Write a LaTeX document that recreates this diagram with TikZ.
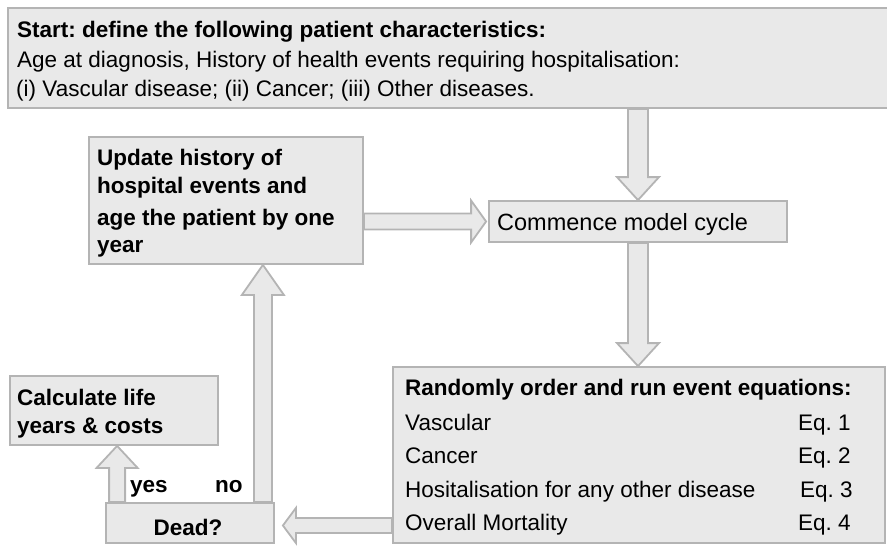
\documentclass[tikz,border=0pt]{standalone}
\usepackage{fontspec}
\setmainfont{Liberation Sans}
\usetikzlibrary{calc,backgrounds}
\definecolor{linegray}{RGB}{180,180,180}
\definecolor{boxfill}{RGB}{233,233,233}
\frenchspacing
\tikzset{
  box/.style={draw=linegray, fill=boxfill, line width=1.8pt, rectangle, inner sep=0pt},
  txt/.style={anchor=base west, inner sep=0pt, font=\fontsize{22.5}{27}\selectfont},
  btxt/.style={anchor=base west, inner sep=0pt, font=\fontsize{22.5}{27}\selectfont\bfseries},
  ar/.style={draw=linegray, fill=boxfill, line width=1.8pt, line join=miter},
  barrow/.style n args={3}{
    to path={
      ($(\tikztostart)!#1!90:(\tikztotarget)$) --
      ($($(\tikztotarget)!#3!(\tikztostart)$)!#1!90:(\tikztotarget)$) --
      ($($(\tikztotarget)!#3!(\tikztostart)$)!#2!90:(\tikztotarget)$) --
      (\tikztotarget) --
      ($($(\tikztotarget)!#3!(\tikztostart)$)!#2!-90:(\tikztotarget)$) --
      ($($(\tikztotarget)!#3!(\tikztostart)$)!#1!-90:(\tikztotarget)$) --
      ($(\tikztostart)!#1!-90:(\tikztotarget)$) -- cycle
    }}
}
\begin{document}
\begin{tikzpicture}[x=1pt,y=-1pt]
\useasboundingbox (0,0) rectangle (887,546);

% boxes
\node[box, minimum width=880pt, minimum height=100pt] (top) at (448,58) {};
\node[box, minimum width=274pt, minimum height=127pt] (update) at (226,200.5) {};
\node[box, minimum width=298pt, minimum height=41pt] (commence) at (638,221.5) {};
\node[box, minimum width=492pt, minimum height=176pt] (rand) at (639,455) {};
\node[box, minimum width=208pt, minimum height=69pt] (calc) at (114,410.5) {};
\node[box, minimum width=168pt, minimum height=40pt] (dead) at (190,523) {};

% texts
\node[btxt] (t1) at (17,37) {Start: define the following patient characteristics:};
\node[txt] (t2) at (17,67) {Age at diagnosis, History of health events requiring hospitalisation:};
\node[txt] (t3) at (16,96) {(i) Vascular disease; (ii) Cancer; (iii) Other diseases.};

\node[btxt] (u1) at (97,165) {Update history of};
\node[btxt] (u2) at (97,193) {hospital events and};
\node[btxt] (u3) at (97,225) {age the patient by one};
\node[btxt] (u4) at (97,252) {year};

\node[txt, font=\fontsize{23.5}{28}\selectfont] (c1) at (497,230) {Commence model cycle};

\node[btxt] (r0) at (405,395) {Randomly order and run event equations:};
\node[txt] (r1) at (405,430) {Vascular};
\node[txt] (r2) at (405,463) {Cancer};
\node[txt] (r3) at (405,497) {Hositalisation for any other disease};
\node[txt] (r4) at (405,530) {Overall Mortality};
\node[txt] (e1) at (798,430) {Eq. 1};
\node[txt] (e2) at (798,463) {Eq. 2};
\node[txt] (e3) at (800,497) {Eq. 3};
\node[txt] (e4) at (798,530) {Eq. 4};

\node[btxt] (k1) at (17,405) {Calculate life};
\node[btxt] (k2) at (17,433) {years \& costs};

\node[btxt] (yes) at (130,492) {yes};
\node[btxt] (no) at (215,492) {no};
\node[btxt, anchor=base] (d1) at (188,535) {Dead?};

% arrows
\begin{scope}[on background layer]
\draw[ar] (top.south -| commence.north) to[barrow={10pt}{21pt}{23pt}] (commence.north);
\draw[ar] (commence.south) to[barrow={10pt}{21pt}{23pt}] (commence.south |- rand.north);
\draw[ar] (update.east |- commence.west) to[barrow={8pt}{21pt}{15pt}] ([xshift=-2pt]commence.west);
\coordinate (noS) at ([xshift=-12pt]dead.north east);
\draw[ar] (noS) to[barrow={9pt}{21pt}{30pt}] (noS |- update.south);
\coordinate (yesS) at ([xshift=12pt]dead.north west);
\draw[ar] (yesS) to[barrow={8pt}{20.5pt}{22pt}] (yesS |- calc.south);
\coordinate (deadT) at ([xshift=8pt,yshift=-2.5pt]dead.east);
\draw[ar] (rand.west |- deadT) to[barrow={7.5pt}{17.5pt}{13pt}] (deadT);
\end{scope}
\end{tikzpicture}
\end{document}
